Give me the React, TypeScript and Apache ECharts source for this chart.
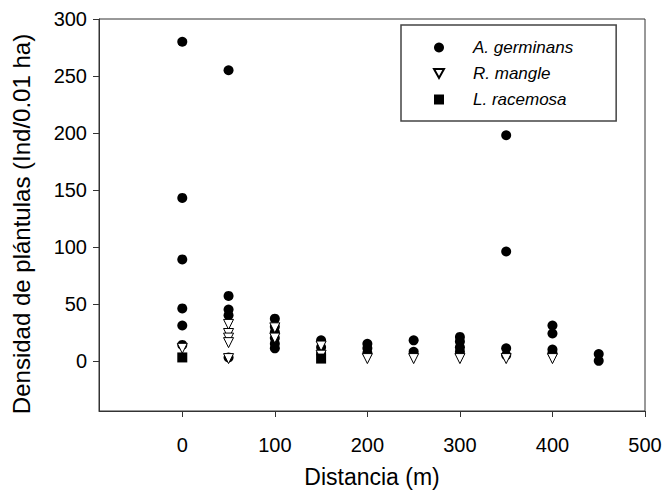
import React, { useEffect, useRef } from "react";
import * as echarts from "echarts";

const seriesNames = ["A. germinans", "R. mangle", "L. racemosa"];
const xTicks = [0, 100, 200, 300, 400, 500];
const yTicks = [0, 50, 100, 150, 200, 250, 300];

// [distance, density]
const germinans: [number, number][] = [
  [0, 280], [0, 143], [0, 89], [0, 46], [0, 31], [0, 14],
  [50, 255], [50, 57], [50, 45], [50, 40], [50, 3],
  [100, 37], [100, 30], [100, 25], [100, 20], [100, 15], [100, 11],
  [150, 18], [150, 12], [150, 7],
  [200, 15], [200, 11], [200, 7],
  [250, 18], [250, 8],
  [300, 21], [300, 17], [300, 12], [300, 8],
  [350, 198], [350, 96], [350, 11], [350, 5],
  [400, 31], [400, 24], [400, 10], [400, 7],
  [450, 6], [450, 0],
];
const mangle: [number, number][] = [
  [0, 11],
  [50, 32], [50, 24], [50, 20], [50, 16], [50, 2],
  [100, 29], [100, 20],
  [150, 13], [150, 5],
  [200, 2], [250, 2], [300, 2], [350, 2], [400, 2],
];
const racemosa: [number, number][] = [
  [0, 3], [150, 2],
];

const FONT = "'Liberation Sans', Arial, sans-serif";
const DOWN_TRIANGLE = "path://M0,0L10,0L5,9Z";

export default function App() {
  const ref = useRef<HTMLDivElement>(null);
  useEffect(() => {
    document.body.style.margin = "0";
    if (!ref.current) return;
    const chart = echarts.init(ref.current, undefined, { renderer: "svg" });
    chart.setOption({
      animation: false,
      backgroundColor: "#fff",
      grid: {
        left: 99, top: 19, width: 546, height: 392,
        outerBoundsMode: "none",
        containLabel: false,
        show: true, borderColor: "#333", borderWidth: 1, backgroundColor: "transparent",
      },
      legend: {
        orient: "vertical",
        left: 401,
        top: 25,
        padding: [14, 43, 13, 32],
        itemWidth: 10,
        itemHeight: 10,
        itemGap: 9,
        borderColor: "#444",
        borderWidth: 1.5,
        data: seriesNames,
        textStyle: {
          fontFamily: FONT, fontStyle: "italic", fontSize: 17, color: "#000",
          padding: [0, 0, 0, 24],
        },
      },
      xAxis: {
        type: "value",
        min: -90,
        max: 500,
        name: "Distancia (m)",
        nameLocation: "middle",
        nameGap: 54,
        nameTextStyle: { fontFamily: FONT, fontSize: 23, color: "#000" },
        splitLine: { show: false },
        axisLine: { show: true, onZero: false, lineStyle: { color: "#333", width: 1 } },
        axisTick: { show: true, inside: false, length: 6, customValues: xTicks, lineStyle: { color: "#333" } },
        axisLabel: { customValues: xTicks, margin: 24, fontFamily: FONT, fontSize: 20, color: "#000" },
      },
      yAxis: {
        type: "value",
        min: -44,
        max: 300,
        name: "Densidad de plántulas (Ind/0.01 ha)",
        nameLocation: "middle",
        nameGap: 66,
        nameTextStyle: { fontFamily: FONT, fontSize: 24, color: "#000", padding: [0, 18, 0, 0] },
        splitLine: { show: false },
        axisLine: { show: true, onZero: false, lineStyle: { color: "#333", width: 1 } },
        axisTick: { show: true, inside: false, length: 6, customValues: yTicks, lineStyle: { color: "#333" } },
        axisLabel: { customValues: yTicks, margin: 12, fontFamily: FONT, fontSize: 20, color: "#000" },
      },
      series: [
        {
          name: seriesNames[0],
          type: "scatter",
          data: germinans,
          symbol: "circle",
          symbolSize: 10,
          itemStyle: { color: "#000", opacity: 1 },
        },
        {
          name: seriesNames[1],
          type: "scatter",
          data: mangle,
          symbol: DOWN_TRIANGLE,
          symbolSize: 10,
          itemStyle: { color: "#fff", borderColor: "#000", borderWidth: 1, opacity: 1 },
        },
        {
          name: seriesNames[2],
          type: "scatter",
          data: racemosa,
          symbol: "rect",
          symbolSize: 10,
          itemStyle: { color: "#000", opacity: 1 },
        },
      ],
    });
    return () => chart.dispose();
  }, []);
  return <div ref={ref} style={{ width: 665, height: 492 }} />;
}
